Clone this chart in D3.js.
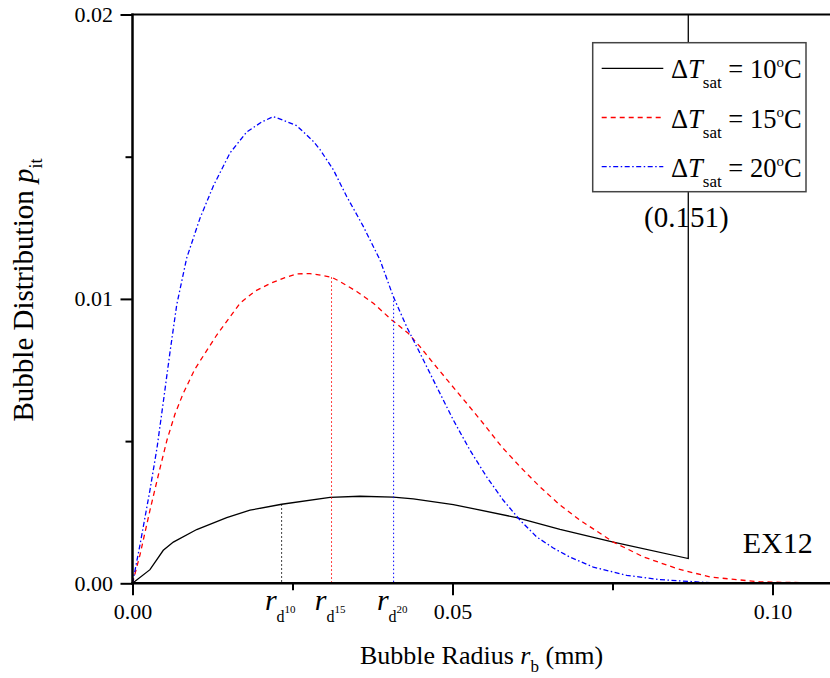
<!DOCTYPE html>
<html>
<head>
<meta charset="utf-8">
<script src="https://cdn.jsdelivr.net/npm/d3@7/dist/d3.min.js"></script>
<style>
  html, body { margin: 0; padding: 0; background: #fff; }
  svg { display: block; font-family: "Liberation Serif", "Times New Roman", serif; }
</style>
</head>
<body>
<svg id="chart" width="830" height="678"></svg>
<script>
// Bubble radius r_b (mm) and distribution p_it for ΔT_sat = 10, 15, 20 °C
const r10 = [0, 0.00273, 0.00481, 0.00638, 0.01003, 0.01472, 0.01836, 0.02331, 0.03086, 0.03555,
             0.04075, 0.04388, 0.05013, 0.06003, 0.0668, 0.07513, 0.08684, 0.08684];
const p10 = [0, 0.00048, 0.00116, 0.00145, 0.00189, 0.00231, 0.00257, 0.00278, 0.00302, 0.00306,
             0.00303, 0.00297, 0.00277, 0.00231, 0.0019, 0.00145, 0.00087, 0.151];

const r15 = [0, 0.00117, 0.00273, 0.0043, 0.00539, 0.00664, 0.00789, 0.00977, 0.01316, 0.0168,
             0.01914, 0.02148, 0.02383, 0.0257, 0.02773, 0.02977, 0.03113, 0.03242, 0.03503, 0.03763,
             0.0405, 0.04309, 0.04492, 0.047, 0.04961, 0.05222, 0.05481, 0.05769, 0.06055, 0.06367,
             0.0668, 0.06992, 0.07513, 0.07981, 0.08503, 0.09023, 0.09805, 0.11];
const p15 = [0, 0.001, 0.00257, 0.00405, 0.00504, 0.00595, 0.00666, 0.00754, 0.00873, 0.00985,
             0.01027, 0.01054, 0.01075, 0.01088, 0.01089, 0.01082, 0.01076, 0.01061, 0.01026, 0.00985,
             0.00926, 0.00879, 0.00832, 0.00774, 0.00703, 0.00633, 0.00562, 0.0048, 0.0041, 0.00339,
             0.00275, 0.00222, 0.00145, 0.00093, 0.00052, 0.00022, 0.00005, 0];

const r20 = [0, 0.00117, 0.00273, 0.00383, 0.00481, 0.00586, 0.00691, 0.00847, 0.01055, 0.01263,
             0.01523, 0.01784, 0.02019, 0.022, 0.02356, 0.02566, 0.02825, 0.0293, 0.03138, 0.03347,
             0.03606, 0.03867, 0.04075, 0.04284, 0.04492, 0.04753, 0.05013, 0.05273, 0.05534, 0.05794,
             0.06055, 0.06316, 0.06575, 0.06836, 0.072, 0.07722, 0.08242, 0.09023, 0.098, 0.11];
const p20 = [0, 0.00135, 0.00328, 0.00476, 0.00637, 0.00813, 0.00979, 0.01144, 0.01284, 0.01397,
             0.01513, 0.01587, 0.01622, 0.01641, 0.01628, 0.01609, 0.01554, 0.01525, 0.01454, 0.0136,
             0.01255, 0.01137, 0.01008, 0.00902, 0.00809, 0.00691, 0.00574, 0.00468, 0.00374, 0.00292,
             0.00222, 0.00163, 0.00124, 0.00092, 0.00057, 0.00028, 0.00013, 0.00002, 0, 0];

// Characteristic radii r_d and the curve heights where their guide lines stop
const rdLabels = ["10", "15", "20"];
const rdRadius = [0.0233, 0.0311, 0.0408];
const rdHeight = [0.00278, 0.01076, 0.01008];

const seriesNames = ["10", "15", "20"];
const seriesColors = ["#000000", "#ff0000", "#0000ff"];
const seriesDash = [null, "5,4", "5,2.5,1.5,2.5"];

const xMajor = [0, 0.05, 0.10];
const xMinor = [0.025, 0.075];
const yMajor = [0, 0.01, 0.02];
const yMinor = [0.005, 0.015];

const offScaleValue = "(0.151)";
const caseLabel = "EX12";

const svg = d3.select("#chart");
const x = d3.scaleLinear().domain([0, 0.11]).range([132.5, 836.5]);
const y = d3.scaleLinear().domain([0, 0.02]).range([583.3, 14.5]);

svg.append("defs").append("clipPath").attr("id", "plot")
  .append("rect").attr("x", x(0)).attr("y", y(0.02))
  .attr("width", x(0.11) - x(0)).attr("height", y(0) - y(0.02));

// Curves
const series = [
  {r: r10, p: p10}, {r: r15, p: p15}, {r: r20, p: p20}
];
const line = d3.line().x(d => x(d[0])).y(d => y(d[1]));
const gCurves = svg.append("g").attr("clip-path", "url(#plot)");
series.forEach((s, i) => {
  gCurves.append("path")
    .datum(s.r.map((r, k) => [r, s.p[k]]))
    .attr("d", line)
    .attr("fill", "none")
    .attr("stroke", seriesColors[i])
    .attr("stroke-width", 1.3)
    .attr("stroke-dasharray", seriesDash[i]);
});

// r_d guide lines
rdRadius.forEach((r, i) => {
  svg.append("line")
    .attr("x1", x(r)).attr("x2", x(r))
    .attr("y1", y(rdHeight[i])).attr("y2", y(0))
    .attr("stroke", seriesColors[i])
    .attr("stroke-width", 1)
    .attr("stroke-dasharray", "1.5,2.5");
});

// Axes
const axisFont = 22;
const gx = svg.append("g").attr("transform", `translate(0,${y(0)})`)
  .call(d3.axisBottom(x).tickValues(xMajor).tickSize(12).tickPadding(8)
        .tickFormat(d3.format(".2f")));
const gxMinor = svg.append("g").attr("transform", `translate(0,${y(0)})`)
  .call(d3.axisBottom(x).tickValues(xMinor).tickSize(7).tickFormat(""));
const gy = svg.append("g").attr("transform", `translate(${x(0)},0)`)
  .call(d3.axisLeft(y).tickValues(yMajor).tickSize(12).tickPadding(7.5)
        .tickFormat(d3.format(".2f")));
const gyMinor = svg.append("g").attr("transform", `translate(${x(0)},0)`)
  .call(d3.axisLeft(y).tickValues(yMinor).tickSize(7).tickFormat(""));
[gx, gxMinor, gy, gyMinor].forEach(g => {
  g.select(".domain").remove();
  g.selectAll(".tick line").attr("stroke", "#000").attr("stroke-width", 2);
  g.selectAll(".tick text").attr("fill", "#000")
    .style("font-family", "Liberation Serif").style("font-size", axisFont + "px");
});

// Frame lines: left, bottom, top
svg.append("line").attr("x1", x(0)).attr("x2", x(0)).attr("y1", y(0.02) - 1).attr("y2", y(0) + 1.2)
  .attr("stroke", "#000").attr("stroke-width", 2.5);
svg.append("line").attr("x1", x(0) - 1.2).attr("x2", x(0.11)).attr("y1", y(0)).attr("y2", y(0))
  .attr("stroke", "#000").attr("stroke-width", 2.5);
svg.append("line").attr("x1", x(0) - 1.2).attr("x2", x(0.11)).attr("y1", y(0.02)).attr("y2", y(0.02))
  .attr("stroke", "#000").attr("stroke-width", 2);

// r_d labels under the axis
rdRadius.forEach((r, i) => {
  const t = svg.append("text").attr("x", x(r) - 16.7).attr("y", 610).attr("fill", "#000");
  t.append("tspan").text("r").style("font-style", "italic").style("font-size", "30px");
  t.append("tspan").text("d").style("font-size", "16px").attr("dy", 12);
  t.append("tspan").text(rdLabels[i]).style("font-size", "11px").attr("dy", -9);
});

// Axis titles
const xt = svg.append("text").attr("x", 360).attr("y", 664).attr("fill", "#000").style("font-size", "26px");
xt.append("tspan").text("Bubble Radius ");
xt.append("tspan").text("r").style("font-style", "italic");
xt.append("tspan").text("b").style("font-size", "17px").attr("dy", 8);
xt.append("tspan").text(" (mm)").attr("dy", -8);

const yt = svg.append("text").attr("transform", "translate(33,290) rotate(-90)")
  .attr("text-anchor", "middle").attr("fill", "#000").style("font-size", "29px");
yt.append("tspan").text("Bubble Distribution ");
yt.append("tspan").text("p").style("font-style", "italic");
yt.append("tspan").text("it").style("font-size", "18px").attr("dy", 9);

// Off-scale value and case label
svg.append("text").attr("x", 686.3).attr("y", 227).attr("text-anchor", "middle")
  .attr("fill", "#000").style("font-size", "29px").text(offScaleValue);
svg.append("text").attr("x", 742.7).attr("y", 553.3)
  .attr("fill", "#000").style("font-size", "30px").text(caseLabel);

// Legend
const lg = svg.append("g");
lg.append("rect").attr("x", 592.7).attr("y", 42.7).attr("width", 213.3).attr("height", 149)
  .attr("fill", "#fff").attr("stroke", "#444").attr("stroke-width", 1.5);
seriesNames.forEach((name, i) => {
  const yy = 68.3 + i * 49.2;
  lg.append("line").attr("x1", 601.7).attr("x2", 663.3).attr("y1", yy).attr("y2", yy)
    .attr("stroke", seriesColors[i]).attr("stroke-width", 1.3)
    .attr("stroke-dasharray", seriesDash[i]);
  const t = lg.append("text").attr("x", 671).attr("y", yy + 10).attr("fill", "#000")
    .style("font-size", "26.5px");
  t.append("tspan").text("Δ");
  t.append("tspan").text("T").style("font-style", "italic");
  t.append("tspan").text("sat").style("font-size", "17px").attr("dy", 10);
  t.append("tspan").text(" = " + name).attr("dy", -10);
  t.append("tspan").text("o").style("font-size", "15px").attr("dy", -11);
  t.append("tspan").text("C").attr("dy", 11);
});
</script>
</body>
</html>
